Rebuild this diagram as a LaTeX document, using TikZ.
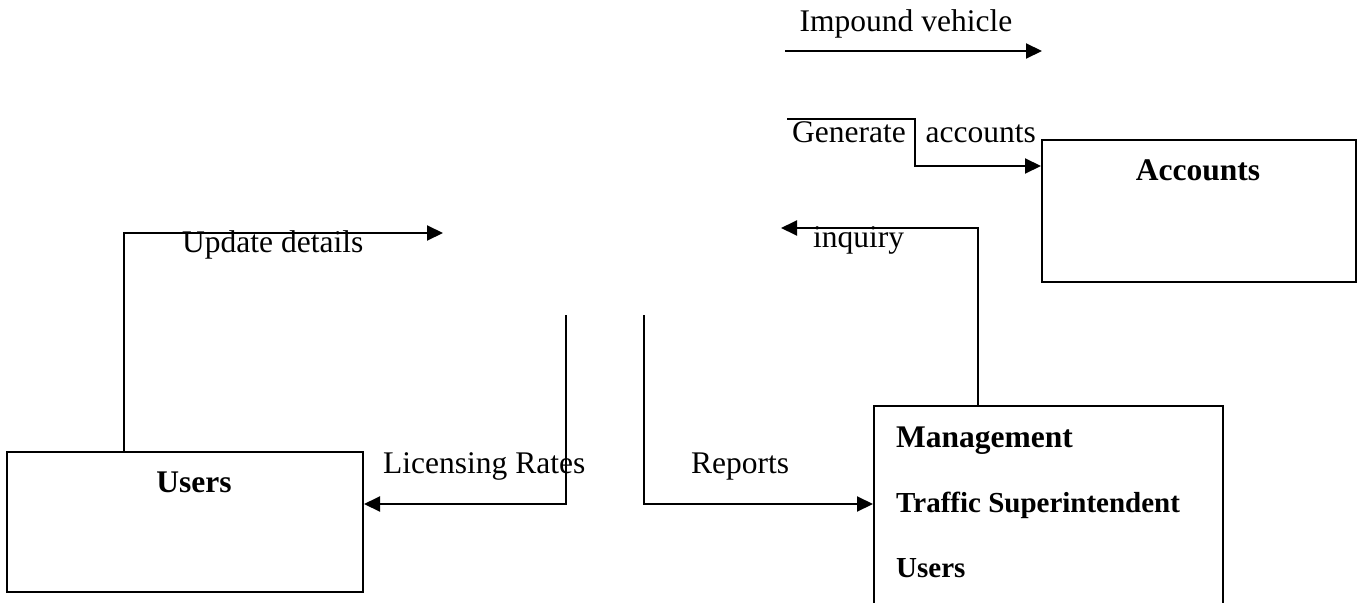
\documentclass[tikz,border=0pt]{standalone}
\usepackage{fontspec}
\setmainfont{Liberation Serif}
\usetikzlibrary{arrows.meta}
\begin{document}
\begin{tikzpicture}[x=1pt, y=-1pt,
  box/.style={draw, line width=2pt, inner sep=0pt},
  flow/.style={line width=2pt, -{Triangle[length=16pt,width=15pt]}},
  lbl/.style={font=\fontsize{31.5}{38}\selectfont, inner sep=0pt, anchor=base},
  lblw/.style={lbl, anchor=base west},
  ttl/.style={font=\fontsize{31.5}{38}\selectfont\bfseries, inner sep=0pt, anchor=base},
  ttlw/.style={font=\fontsize{#1}{38}\selectfont\bfseries, inner sep=0pt, anchor=base west},
]
\clip (0,0) rectangle (1364,602);

% external entities
\node[box, minimum width=356pt, minimum height=140pt] (users) at (185,522) {};
\node[box, minimum width=314pt, minimum height=142pt] (accounts) at (1199,211) {};
\node[box, minimum width=349pt, minimum height=234pt] (mgmt) at (1048.5,523) {};

\node[ttl] (usersT) at (194,492) {Users};
\node[ttl] (accountsT) at (1198,180) {Accounts};
\node[ttlw=31.5] (mgmtA) at (896,447) {Management};
\node[ttlw=29] (mgmtB) at (896,512) {Traffic Superintendent};
\node[ttlw=29] (mgmtC) at (896,577) {Users};

% connector end points and corners
\coordinate (imp0) at (785,51);
\coordinate (imp1) at (1042,51);
\coordinate (gen0) at (787,119);
\coordinate (gen1) at (915,119);
\coordinate (gen2) at (915,166);
\coordinate (updC) at (124,233);
\coordinate (updE) at (443,233);
\coordinate (inqC) at (978,228);
\coordinate (inqE) at (781,228);
\coordinate (lic0) at (566,315);
\coordinate (lic1) at (566,504);
\coordinate (rep0) at (644,315);
\coordinate (rep1) at (644,504);

% data flows
\draw[flow] (imp0) -- (imp1);
\draw[flow] (gen0) -- (gen1) -- (gen2) -- (gen2 -| accounts.west);
\draw[flow] (users.north -| updC) -- (updC) -- (updE);
\draw[flow] (mgmt.north -| inqC) -- (inqC) -- (inqE);
\draw[flow] (lic0) -- (lic1) -- (lic1 -| users.east);
\draw[flow] (rep0) -- (rep1) -- (rep1 -| mgmt.west);

% flow labels
\node[lbl] (impT) at (906,32) {Impound vehicle};
\node[lblw] (genT) at (792,142) {Generate~\hspace{12pt}accounts};
\node[lblw] (updT) at (182,252) {Update details};
\node[lblw] (inqT) at (813,247) {inquiry};
\node[lblw] (licT) at (383,473) {Licensing Rates};
\node[lbl] (repT) at (740,473) {Reports};
\end{tikzpicture}
\end{document}
